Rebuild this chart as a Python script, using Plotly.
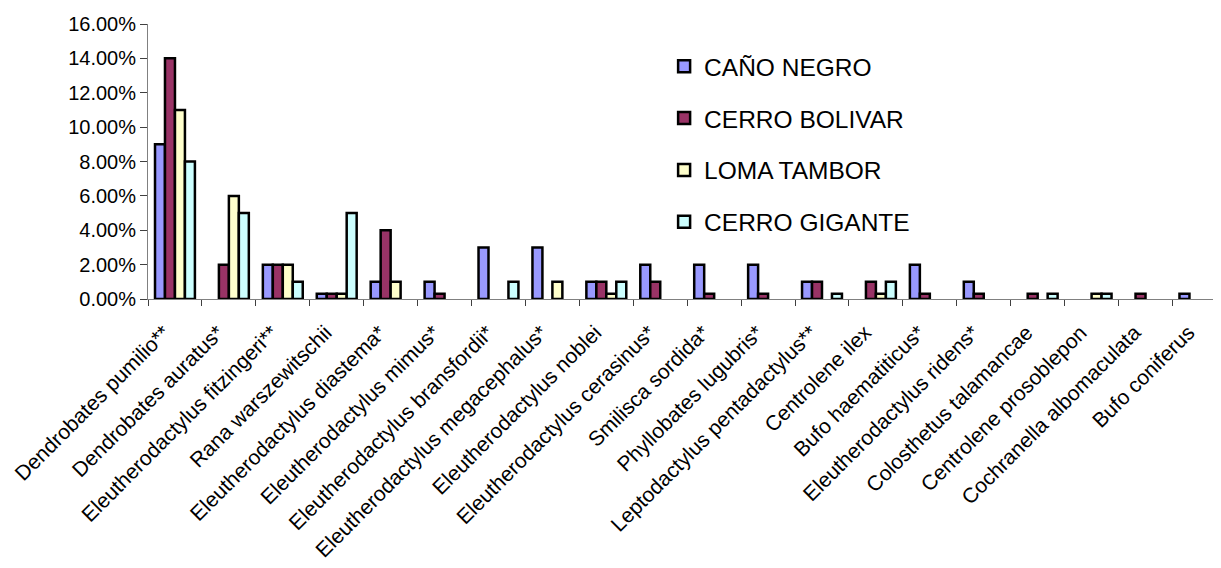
import plotly.graph_objects as go

species = [
    "Dendrobates pumilio**",
    "Dendrobates auratus*",
    "Eleutherodactylus fitzingeri**",
    "Rana warszewitschii",
    "Eleutherodactylus diastema*",
    "Eleutherodactylus mimus*",
    "Eleutherodactylus bransfordii*",
    "Eleutherodactylus megacephalus*",
    "Eleutherodactylus noblei",
    "Eleutherodactylus cerasinus*",
    "Smilisca sordida*",
    "Phyllobates lugubris*",
    "Leptodactylus pentadactylus**",
    "Centrolene ilex",
    "Bufo haematiticus*",
    "Eleutherodactylus ridens*",
    "Colosthetus talamancae",
    "Centrolene prosoblepon",
    "Cochranella albomaculata",
    "Bufo coniferus",
]

# relative abundance (fraction) per site
cano_negro = [0.09, 0, 0.02, 0.003, 0.01, 0.01, 0.03, 0.03, 0.01, 0.02,
              0.02, 0.02, 0.01, 0, 0.02, 0.01, 0, 0, 0, 0.003]
cerro_bolivar = [0.14, 0.02, 0.02, 0.003, 0.04, 0.003, 0, 0, 0.01, 0.01,
                 0.003, 0.003, 0.01, 0.01, 0.003, 0.003, 0.003, 0, 0.003, 0]
loma_tambor = [0.11, 0.06, 0.02, 0.003, 0.01, 0, 0, 0.01, 0.003, 0,
               0, 0, 0, 0.003, 0, 0, 0, 0.003, 0, 0]
cerro_gigante = [0.08, 0.05, 0.01, 0.05, 0, 0, 0.01, 0, 0.01, 0,
                 0, 0, 0.003, 0.01, 0, 0, 0.003, 0.003, 0, 0]

sites = [
    ("CAÑO NEGRO", cano_negro, "#9999FF"),
    ("CERRO BOLIVAR", cerro_bolivar, "#993366"),
    ("LOMA TAMBOR", loma_tambor, "#FFFFCC"),
    ("CERRO GIGANTE", cerro_gigante, "#CCFFFF"),
]

FONT = "Liberation Sans, Arial, sans-serif"

fig = go.Figure()
for i, (name, vals, color) in enumerate(sites):
    # zero counts are not drawn at all (no outline stub)
    fig.add_trace(go.Bar(
        x=species, y=[v if v else None for v in vals], name=name, legendgroup=str(i),
        marker=dict(color=color, line=dict(color="black", width=2.5)),
    ))

# page has an 8px body margin, so the figure is 8px smaller than the window
fig.update_layout(
    width=1213, height=560,
    barmode="group", bargap=0.26, bargroupgap=0,
    paper_bgcolor="white", plot_bgcolor="white",
    font=dict(family=FONT, color="black"),
    margin=dict(l=140, r=0, t=16, b=269),
    legend=dict(
        x=0.481, y=0.928, xanchor="left", yanchor="top",
        font=dict(size=24.5, family=FONT), tracegroupgap=17,
        bgcolor="rgba(0,0,0,0)",
    ),
)
fig.update_xaxes(
    type="category", range=[-0.5, 19.4],
    tickangle=-45, tickfont=dict(size=21),
    ticklabelstandoff=12, ticklabelshift=-11,
    showline=True, linecolor="#808080", linewidth=1,
    ticks="outside", tickson="boundaries", ticklen=6, tickcolor="#404040",
    showgrid=False,
)
fig.update_yaxes(
    range=[0, 0.16], dtick=0.02, tickformat=".2%",
    tickfont=dict(size=20),
    showline=True, linecolor="#808080", linewidth=1,
    ticks="outside", ticklen=7, tickcolor="#404040",
    showgrid=False, zeroline=False,
)

fig.write_html("out.html")
